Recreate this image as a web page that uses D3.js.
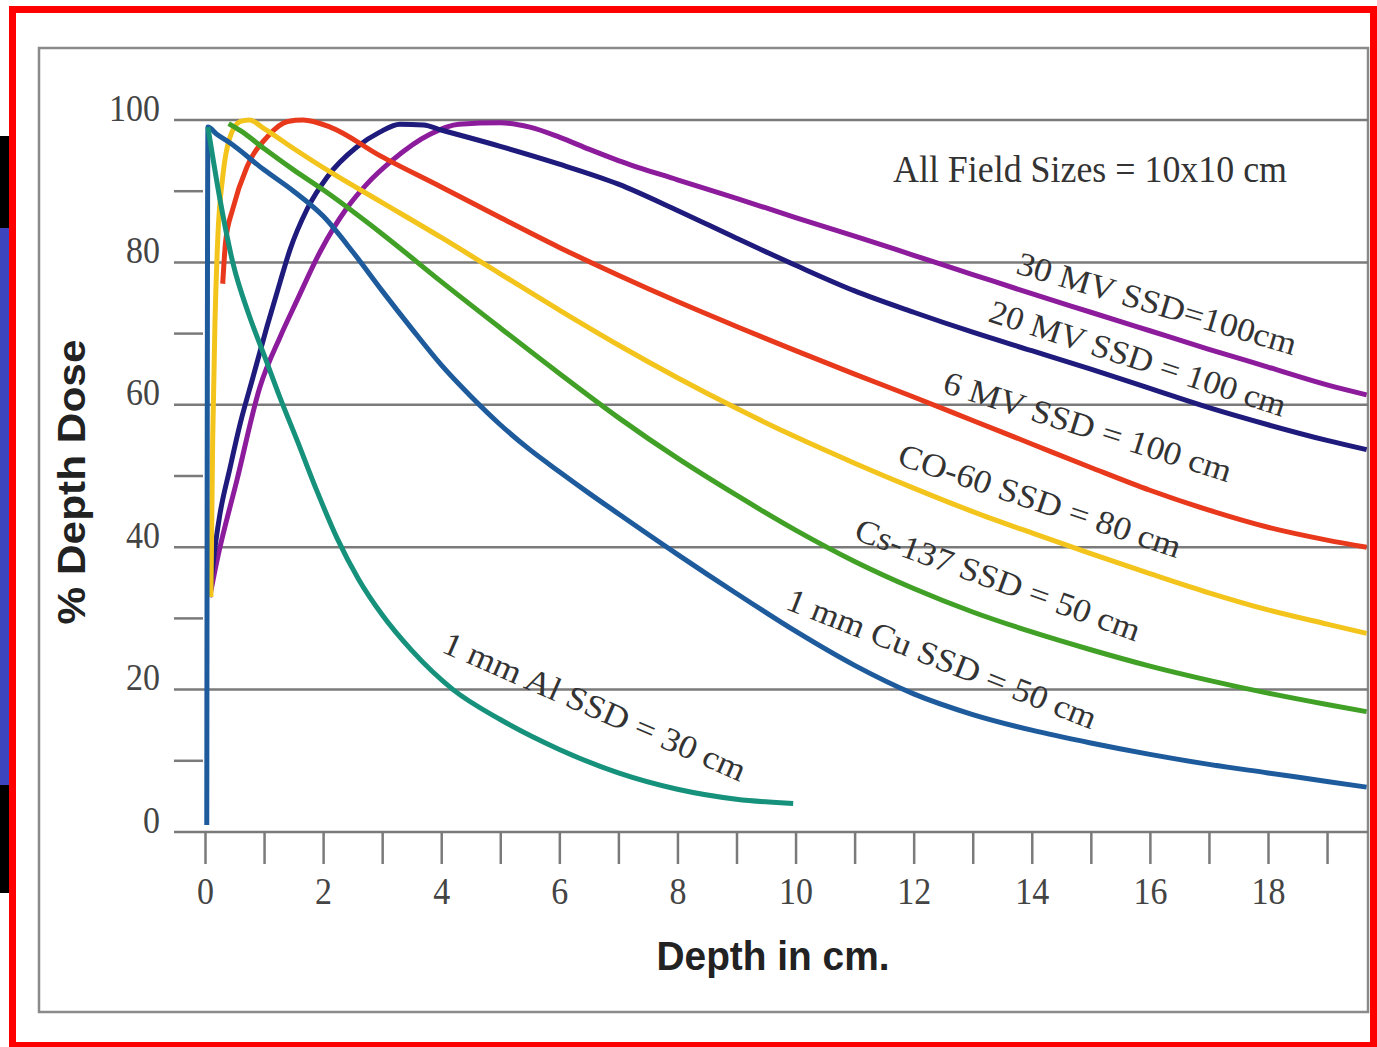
<!DOCTYPE html>
<html>
<head>
<meta charset="utf-8">
<script src="https://cdn.jsdelivr.net/npm/d3@7"></script>
<style>
	html, body { margin: 0; padding: 0; background: #fff; }
	svg { display: block; }
</style>
</head>
<body>
<div id="chart"></div>
<script>

// [depth in cm, % depth dose]
const mv30 = [[0.08,33],[0.2,38],[0.54,49.4],[0.93,62.5],[1.27,69.5],[1.56,74.7],[1.95,81.5],[2.4,87.6],[2.74,91],[3.18,94.4],[3.81,98],[4.3,99.4],[5,99.6],[5.5,99],[6,97.6],[6.5,95.9],[7,94.3],[8,91.6],[9,89],[10,86.3],[11,83.7],[12,81],[13,78.3],[14,75.6],[15,73],[16,70.4],[17,67.8],[18,65.3],[19,62.8],[19.67,61.4]];
const mv20 = [[0.08,33],[0.14,38],[0.25,44.5],[0.42,51],[0.6,57.5],[0.81,63.8],[1.05,71],[1.27,77.2],[1.44,81.8],[1.73,87.5],[2.07,92],[2.57,96.2],[2.96,98.3],[3.3,99.4],[3.7,99.3],[4,98.6],[5,96.3],[6,93.8],[7,91],[8,87.3],[9,83.4],[10,79.6],[11,76],[12,73],[13,70.2],[14,67.6],[15,65],[16,62.3],[17,59.6],[18,57.2],[19,55],[19.67,53.7]];
const mv6 = [[0.3,77],[0.35,83],[0.47,87.5],[0.71,93.4],[1.05,97.6],[1.4,99.8],[1.66,100],[2.12,99],[2.96,95],[4,90.6],[5,86.3],[6,82.1],[7,78.2],[8,74.5],[9,71],[10,67.6],[11,64.3],[12,61.1],[13,57.8],[14,54.5],[15,51.2],[16,48],[17,45.2],[18,42.8],[19,41],[19.67,40]];
const co60 = [[0.1,33],[0.13,55],[0.17,72],[0.22,84],[0.3,92],[0.42,97.5],[0.6,99.8],[0.75,100],[1,98.8],[1.5,96],[2.12,92.7],[3,88.4],[4,83.5],[5,78.4],[6,73.3],[7,68.4],[8,63.8],[9,59.5],[10,55.5],[11,51.8],[12,48.3],[13,45],[14,42],[15,39.1],[16,36.3],[17,33.6],[18,31.2],[19,29.2],[19.67,27.9]];
const cs137 = [[0.4,99.5],[0.6,98.5],[1,96],[1.5,93],[2,90.2],[3,84],[4,77.3],[5,70.8],[6,64.4],[7,58.2],[8,52.5],[9,47.3],[10,42.4],[11,38],[12,34.2],[13,30.9],[14,28.1],[15,25.6],[16,23.3],[17,21.3],[18,19.5],[19,17.9],[19.67,16.9]];
const cu1mm = [[0.03,1],[0.05,99],[0.2,98],[0.42,96.8],[1,93],[1.5,90],[2,86.5],[2.5,81.5],[3,76],[3.5,70.7],[4,65.6],[4.5,61.2],[5,57.2],[5.5,53.7],[6,50.6],[6.5,47.6],[7,44.7],[8,39],[9,33.5],[10,28.2],[11,23.4],[12,19.4],[13,16.5],[14,14.3],[15,12.5],[16,10.9],[17,9.5],[18,8.3],[19,7.1],[19.67,6.3]];
const al1mm = [[0.05,99],[0.25,89],[0.47,80],[0.75,72.5],[1,67],[1.27,61],[1.56,55],[1.9,47.8],[2.24,41.2],[2.6,35.5],[3,30.5],[3.5,25.5],[4.2,20],[5,15.8],[6,11.6],[7,8.3],[8,6],[9,4.6],[9.96,4]];

const seriesNames = ['30 MV SSD=100cm', '20 MV SSD = 100 cm', '6 MV SSD = 100 cm', 'CO-60 SSD = 80 cm', 'Cs-137 SSD = 50 cm', '1 mm Cu SSD = 50 cm', '1 mm Al SSD = 30 cm'];
const seriesData = [mv30, mv20, mv6, co60, cs137, cu1mm, al1mm];

const xTicks = d3.range(0, 20);
const yTicks = d3.range(0, 101, 10);
const xTitle = 'Depth in cm.';
const yTitle = '% Depth Dose';
const note = 'All Field Sizes = 10x10 cm';

// look
const colors = ['#8d1c9d', '#1f1b7d', '#e8391d', '#f3c41b', '#41a026', '#1e5b9d', '#16917b'];
// label anchor (data units) and rotation / run length for each curve label
const labelLayout = [
	{ at: [16.12, 74.3], angle: 16.5, len: 290 },
	{ at: [15.80, 66.6], angle: 18, len: 310 },
	{ at: [14.95, 57.0], angle: 17.5, len: 300 },
	{ at: [14.14, 46.6], angle: 18.5, len: 296 },
	{ at: [13.43, 35.5], angle: 20, len: 301 },
	{ at: [12.48, 24.4], angle: 21.5, len: 330 },
	{ at: [6.60, 17.7], angle: 23.5, len: 327 }
];

const width = 1377, height = 1047;
const plotRight = 1368;
const serif = '"Liberation Serif", "Times New Roman", serif';
const sans = '"Liberation Sans", Arial, sans-serif';
const grey = '#7a7a7a';

const svg = d3.select('#chart').append('svg')
	.attr('width', width)
	.attr('height', height);

svg.append('rect').attr('width', width).attr('height', height).attr('fill', '#fff');

// bits of the slide behind the picture
svg.append('rect').attr('x', 0).attr('y', 136).attr('width', 10).attr('height', 92).attr('fill', '#000');
svg.append('rect').attr('x', 0).attr('y', 228).attr('width', 10).attr('height', 557).attr('fill', '#3c45bd');
svg.append('rect').attr('x', 0).attr('y', 785).attr('width', 10).attr('height', 108).attr('fill', '#000');

// grey frame of the figure
svg.append('rect')
	.attr('x', 39).attr('y', 48)
	.attr('width', plotRight - 39).attr('height', 1012 - 48)
	.attr('fill', 'none').attr('stroke', '#8a8a8a').attr('stroke-width', 2.5);

const x = d3.scaleLinear().domain([0, 18]).range([205, 1268]);
const y = d3.scaleLinear().domain([0, 100]).range([832, 120]);

// horizontal grid and minor ticks
svg.append('g').selectAll('line')
	.data(yTicks).enter()
	.append('line')
		.attr('x1', 174)
		.attr('x2', d => d % 20 === 0 ? plotRight : 203)
		.attr('y1', d => y(d))
		.attr('y2', d => y(d))
		.attr('stroke', grey)
		.attr('stroke-width', 2.5);

const yAxis = d3.axisLeft(y)
	.tickValues(yTicks)
	.tickSize(0)
	.tickPadding(14)
	.tickFormat(d => d % 20 === 0 ? d : '');

svg.append('g')
	.attr('transform', 'translate(174,0)')
	.call(yAxis)
	.call(g => g.select('.domain').remove())
	.call(g => g.selectAll('text')
		.attr('dy', 0)
		.attr('transform', 'scale(1,1.1)')
		.style('font-family', serif)
		.style('font-size', '34px')
		.attr('fill', '#444'));

const xAxis = d3.axisBottom(x)
	.tickValues(xTicks)
	.tickSize(32)
	.tickPadding(9)
	.tickFormat(d => d % 2 === 0 ? d : '');

svg.append('g')
	.attr('transform', `translate(0,${y(0)})`)
	.call(xAxis)
	.call(g => g.select('.domain').remove())
	.call(g => g.selectAll('line').attr('stroke', grey).attr('stroke-width', 2.5))
	.call(g => g.selectAll('text')
		.attr('transform', 'scale(1,1.1)')
		.style('font-family', serif)
		.style('font-size', '34px')
		.attr('fill', '#444'));

// curves
const line = d3.line()
	.x(d => x(d[0]))
	.y(d => y(d[1]))
	.curve(d3.curveMonotoneX);

svg.append('g').selectAll('path')
	.data(seriesData).enter()
	.append('path')
		.attr('d', line)
		.attr('fill', 'none')
		.attr('stroke', (d, i) => colors[i])
		.attr('stroke-width', 5)
		.attr('stroke-linejoin', 'round');

// curve labels
svg.append('g').selectAll('text')
	.data(seriesNames).enter()
	.append('text')
		.attr('transform', (d, i) => {
			const l = labelLayout[i];
			return `translate(${x(l.at[0])},${y(l.at[1])}) rotate(${l.angle})`;
		})
		.attr('text-anchor', 'middle')
		.attr('dy', '0.35em')
		.attr('textLength', (d, i) => labelLayout[i].len)
		.attr('lengthAdjust', 'spacingAndGlyphs')
		.style('font-family', serif)
		.style('font-size', '33px')
		.attr('fill', '#333')
		.text(d => d);

svg.append('text')
	.attr('transform', `translate(${x(11.65)},${y(91.3)}) scale(1,1.1)`)
	.attr('textLength', 394)
	.attr('lengthAdjust', 'spacingAndGlyphs')
	.style('font-family', serif)
	.style('font-size', '35px')
	.attr('fill', '#333')
	.text(note);

// axis titles
svg.append('text')
	.attr('transform', 'translate(773,970) scale(1,1.1)')
	.attr('text-anchor', 'middle')
	.attr('textLength', 233)
	.attr('lengthAdjust', 'spacingAndGlyphs')
	.style('font-family', sans)
	.style('font-weight', 'bold')
	.style('font-size', '37px')
	.attr('fill', '#222')
	.text(xTitle);

svg.append('text')
	.attr('transform', 'translate(85,482) rotate(-90)')
	.attr('text-anchor', 'middle')
	.attr('textLength', 285)
	.attr('lengthAdjust', 'spacingAndGlyphs')
	.style('font-family', sans)
	.style('font-weight', 'bold')
	.style('font-size', '38px')
	.attr('fill', '#222')
	.text(yTitle);

// red slide frame
svg.append('rect')
	.attr('x', 12.5).attr('y', 9.5)
	.attr('width', 1361).attr('height', 1036)
	.attr('fill', 'none')
	.attr('stroke', '#ff0000')
	.attr('stroke-width', 7);

</script>
</body>
</html>
